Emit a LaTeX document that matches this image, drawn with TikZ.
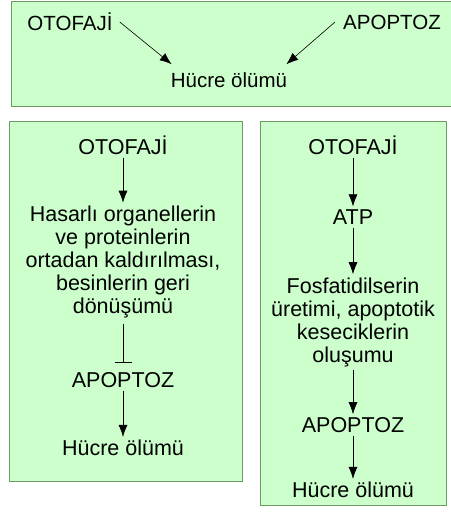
\documentclass[tikz,border=0pt]{standalone}
\usepackage{fontspec}
\setmainfont{Liberation Sans}
\usetikzlibrary{arrows.meta}

\definecolor{boxgreen}{HTML}{CCFFCC}
\definecolor{boxedge}{HTML}{6E9A64}

\tikzset{
  box/.style={fill=boxgreen,draw=boxedge,line width=0.9pt},
  lbl/.style={inner sep=3pt,align=center,font=\fontsize{21.5}{23}\selectfont},
  toplbl/.style={lbl,font=\fontsize{20.5}{22}\selectfont},
  arrow/.style={-{Latex[length=12pt,width=9pt]},line width=0.6pt},
  inhib/.style={-{Bar[width=17pt]},line width=0.6pt,shorten <=3pt,shorten >=7pt}
}

\begin{document}
\begin{tikzpicture}[x=1pt,y=-1pt]
\useasboundingbox (0,0) rectangle (450,527);

% Top box
\draw[box] (11,1) rectangle (456,106);
\node[toplbl] (oto1) at (70,22) {OTOFAJİ};
\node[toplbl] (apo1) at (392,22) {APOPTOZ};
\node[toplbl] (hue1) at (229,80) {Hücre ölümü};
\draw[arrow] ([xshift=4pt]oto1.east) -- ([xshift=4pt,yshift=5pt]hue1.north west);
\draw[arrow] ([xshift=-5pt]apo1.west) -- ([xshift=-4pt,yshift=5pt]hue1.north east);

% Left box
\draw[box] (9,121) rectangle (242,481);
\node[lbl] (oto2) at (123,145) {OTOFAJİ};
\node[lbl] (has2) at (123,262) {Hasarlı organellerin\\ve proteinlerin\\ortadan kaldırılması,\\besinlerin geri\\dönüşümü};
\node[lbl] (apo2) at (123,380) {APOPTOZ};
\node[lbl] (hue2) at (123,448) {Hücre ölümü};
\draw[arrow] (oto2) -- (has2);
\draw[inhib] (has2) -- (apo2);
\draw[arrow] (apo2) -- (hue2);

% Right box
\draw[box] (260,121) rectangle (446,505);
\node[lbl] (oto3) at (353,145) {OTOFAJİ};
\node[lbl] (atp3) at (353,217) {ATP};
\node[lbl] (fos3) at (353,322) {Fosfatidilserin\\üretimi, apoptotik\\keseciklerin\\oluşumu};
\node[lbl] (apo3) at (353,425) {APOPTOZ};
\node[lbl] (hue3) at (353,490) {Hücre ölümü};
\draw[arrow] (oto3) -- (atp3);
\draw[arrow] (atp3) -- (fos3);
\draw[arrow] (fos3) -- (apo3);
\draw[arrow] (apo3) -- (hue3);
\end{tikzpicture}
\end{document}
